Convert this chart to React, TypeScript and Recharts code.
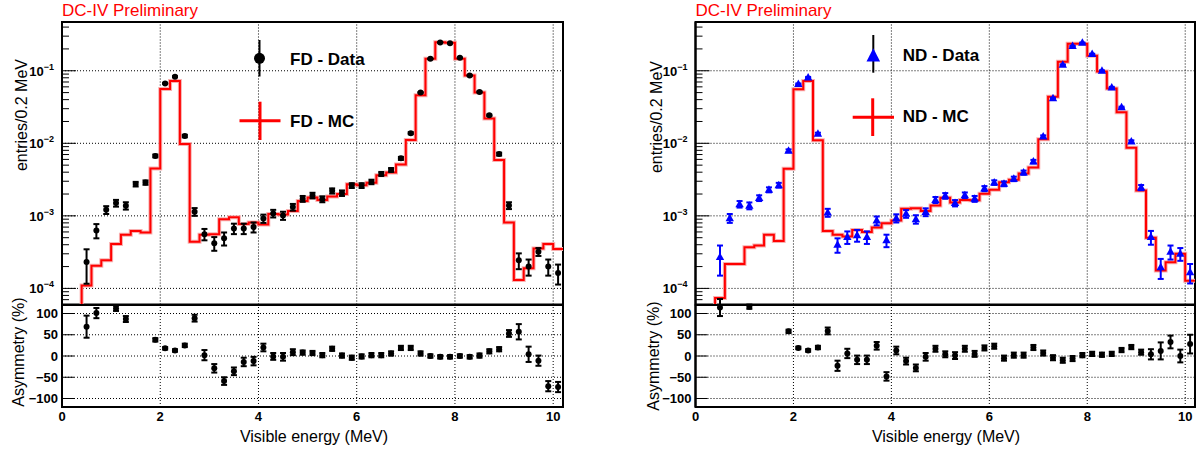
import React from "react";
import {
  ComposedChart,
  Line,
  Scatter,
  ErrorBar,
  XAxis,
  YAxis,
  ReferenceLine,
  ReferenceArea,
} from "recharts";

const FONT = "'Liberation Sans', Arial, Helvetica, sans-serif";

// bin centres of the data points (MeV), 0.2 MeV bins
const binCenters = [
  0.5, 0.7, 0.9, 1.1, 1.3, 1.5, 1.7, 1.9, 2.1, 2.3, 2.5, 2.7, 2.9, 3.1, 3.3, 3.5, 3.7, 3.9,
  4.1, 4.3, 4.5, 4.7, 4.9, 5.1, 5.3, 5.5, 5.7, 5.9, 6.1, 6.3, 6.5, 6.7, 6.9, 7.1, 7.3, 7.5,
  7.7, 7.9, 8.1, 8.3, 8.5, 8.7, 8.9, 9.1, 9.3, 9.5, 9.7, 9.9, 10.1,
];
// lower edges of the MC histogram bins
const binEdges = [
  0.4, 0.6, 0.8, 1.0, 1.2, 1.4, 1.6, 1.8, 2.0, 2.2, 2.4, 2.6, 2.8, 3.0, 3.2, 3.4, 3.6, 3.8,
  4.0, 4.2, 4.4, 4.6, 4.8, 5.0, 5.2, 5.4, 5.6, 5.8, 6.0, 6.2, 6.4, 6.6, 6.8, 7.0, 7.2, 7.4,
  7.6, 7.8, 8.0, 8.2, 8.4, 8.6, 8.8, 9.0, 9.2, 9.4, 9.6, 9.8, 10.0,
];
const histEnd = 10.2;

// FD (far detector)
const fdData = [
  2.31e-4, 6.3e-4, 1.21e-3, 1.5e-3, 1.38e-3, 2.74e-3, 2.88e-3, 6.7e-3,
  0.067, 0.083, 0.0126, 1.14e-3,
  5.6e-4, 4.2e-4, 4.9e-4, 6.7e-4, 6.7e-4, 7.0e-4,
  9.2e-4, 1.08e-3, 1.01e-3, 1.32e-3,
  1.72e-3, 1.91e-3, 1.7e-3, 2.21e-3, 2.06e-3, 2.62e-3, 2.62e-3, 2.94e-3, 3.79e-3, 4.3e-3, 6.2e-3,
  0.0138, 0.05, 0.146, 0.245, 0.24, 0.151, 0.086, 0.051, 0.0243, 7.1e-3,
  1.39e-3, 2.44e-4, 2.0e-4, 3.2e-4, 2.0e-4, 1.63e-4,
];
const fdDataErr = [
  1.15e-4, 1.4e-4, 1.5e-4, 1.6e-4, 1.6e-4, 2e-4, 2e-4, 3e-4,
  1.2e-3, 1.3e-3, 5e-4, 1.4e-4,
  1.0e-4, 9e-5, 1.0e-4, 1.1e-4, 1.1e-4, 1.1e-4,
  1.2e-4, 1.3e-4, 1.3e-4, 1.4e-4,
  1.6e-4, 1.7e-4, 1.6e-4, 1.8e-4, 1.8e-4, 2e-4, 2e-4, 2.1e-4, 2.4e-4, 2.6e-4, 3e-4,
  4.5e-4, 9e-4, 1.5e-3, 2e-3, 2e-3, 1.6e-3, 1.2e-3, 9e-4, 6e-4, 3.3e-4,
  1.5e-4, 6e-5, 5e-5, 4e-5, 5e-5, 5e-5,
];
const fdMc = [
  1.1e-4, 2.06e-4, 2.44e-4, 4.1e-4, 5.5e-4, 6.2e-4, 5.9e-4, 4.5e-3,
  0.056, 0.072, 9.8e-3, 4.4e-4,
  5.5e-4, 5.6e-4, 9.0e-4, 9.6e-4, 7.7e-4, 8.1e-4,
  7.6e-4, 1.06e-3, 1.04e-3, 1.17e-3,
  1.6e-3, 1.79e-3, 1.65e-3, 1.85e-3, 2.0e-3, 2.73e-3, 2.65e-3, 2.85e-3, 3.63e-3, 3.95e-3, 5.1e-3,
  0.0111, 0.046, 0.146, 0.248, 0.243, 0.146, 0.086, 0.05, 0.0219, 5.9e-3,
  8.1e-4, 1.31e-4, 1.89e-4, 3.56e-4, 4.1e-4, 3.5e-4,
];

// ND (near detector)
const ndData = [
  2.7e-4, 9.3e-4, 1.45e-3, 1.38e-3, 1.76e-3, 2.29e-3, 2.65e-3, 7.9e-3,
  0.0656, 0.081, 0.0135, 1.11e-3,
  4.0e-4, 5.1e-4, 5.4e-4, 5.1e-4, 8.6e-4, 4.6e-4,
  9.3e-4, 1.07e-3, 9.0e-4, 1.13e-3,
  1.66e-3, 1.89e-3, 1.5e-3, 1.93e-3, 1.72e-3, 2.38e-3, 2.88e-3, 2.77e-3, 3.24e-3, 3.95e-3, 5.6e-3,
  0.0124, 0.0417, 0.121, 0.219, 0.243, 0.17, 0.1, 0.059, 0.0313, 0.0106,
  2.46e-3, 5.1e-4, 1.95e-4, 3.2e-4, 3.0e-4, 1.67e-4,
];
const ndDataErr = [
  1.2e-4, 1.3e-4, 1.5e-4, 1.5e-4, 1.6e-4, 1.8e-4, 2e-4, 3.5e-4,
  1.2e-3, 1.3e-3, 5e-4, 1.4e-4,
  9e-5, 1e-4, 1e-4, 1e-4, 1.2e-4, 9e-5,
  1.2e-4, 1.3e-4, 1.2e-4, 1.4e-4,
  1.6e-4, 1.7e-4, 1.5e-4, 1.7e-4, 1.6e-4, 1.9e-4, 2.1e-4, 2.1e-4, 2.3e-4, 2.6e-4, 3.1e-4,
  4.6e-4, 8.5e-4, 1.4e-3, 1.9e-3, 2e-3, 1.7e-3, 1.3e-3, 1e-3, 7e-4, 4e-4,
  2e-4, 1.1e-4, 6e-5, 7e-5, 6e-5, 5e-5,
];
const ndMc = [
  7.4e-5, 2.17e-4, 2.17e-4, 3.7e-4, 3.9e-4, 5.5e-4, 4.5e-4, 4.45e-3,
  0.0555, 0.072, 0.011, 6.2e-4,
  5.5e-4, 5.2e-4, 6.4e-4, 6.0e-4, 6.9e-4, 7.9e-4,
  8.6e-4, 1.25e-3, 1.27e-3, 1.17e-3,
  1.39e-3, 1.77e-3, 1.53e-3, 1.65e-3, 1.64e-3, 2.01e-3, 2.29e-3, 2.91e-3, 3.14e-3, 3.83e-3, 4.63e-3,
  0.0114, 0.044, 0.133, 0.235, 0.235, 0.161, 0.098, 0.057, 0.0268, 8.7e-3,
  2.23e-3, 5.0e-4, 1.77e-4, 2.3e-4, 3.0e-4, 1.28e-4,
];

// asymmetry (%), null = outside the frame
const fdAsym = [
  69, 101, null, 112, 87, null, null, 38,
  18, 13, 25, 89,
  2, -29, -59, -36, -14, -12,
  20, -1, -2, 9,
  8, 7, 2, 17, 1, -4, -1, 2, 2, 6, 19,
  19, 6, 0, -2, -2, 0, -2, 1, 11, 16,
  53, 57, 4, -11, -71, -73,
];
const fdAsymErr = [
  26, 12, 0, 6, 7, 0, 0, 4,
  3, 3, 4, 8,
  12, 10, 9, 9, 10, 10,
  9, 8, 9, 7,
  5, 5, 5, 5, 5, 5, 5, 5, 5, 5, 5,
  5, 5, 4, 4, 4, 4, 4, 5, 5, 5,
  8, 18, 18, 12, 12, 12,
];
const ndAsym = [
  114, null, null, 116, null, null, null, 58,
  19, 13, 20, 59,
  -23, 6, -9, -9, 24, -48,
  13, -12, -28, -2,
  17, 4, 1, 17, 5, 19, 23, -5, 2, 2, 20,
  7, -4, -10, -6, 2, 5, 3, 5, 14, 21,
  9, 4, 12, 33, 0, 28,
];
const ndAsymErr = [
  20, 0, 0, 5, 0, 0, 0, 4,
  3, 3, 4, 8,
  12, 11, 10, 10, 9, 10,
  9, 8, 8, 9,
  7, 7, 8, 7, 7, 6, 6, 6, 6, 6, 6,
  6, 6, 6, 6, 5, 5, 5, 5, 5, 5,
  6, 12, 20, 15, 15, 22,
];

// axes
const X_DOMAIN: [number, number] = [0, 10.2];
const LOG_DOMAIN: [number, number] = [6e-5, 0.47];
const ASYM_DOMAIN: [number, number] = [-120, 120];
const xMajor = [0, 2, 4, 6, 8, 10];
const xTicks = [0, 0.5, 1, 1.5, 2, 2.5, 3, 3.5, 4, 4.5, 5, 5.5, 6, 6.5, 7, 7.5, 8, 8.5, 9, 9.5, 10];
const logMajor = [1e-4, 1e-3, 1e-2, 1e-1];
const logExp = [-5, -4, -3, -2, -1];
const logMult = [1, 2, 3, 4, 5, 6, 7, 8, 9];
const logTicks = logExp
  .flatMap((e) => logMult.map((m) => m * Math.pow(10, e)))
  .filter((v) => v >= LOG_DOMAIN[0] && v <= LOG_DOMAIN[1]);
const asymTicks = [-100, -50, 0, 50, 100];

type Pt = { x: number; y: number; err: number };

function toPoints(xs: number[], ys: (number | null)[], errs: number[]): Pt[] {
  const out: Pt[] = [];
  xs.forEach((x, i) => {
    const y = ys[i];
    if (y !== null && y !== undefined) out.push({ x, y, err: errs[i] });
  });
  return out;
}

// step outline: rise from below the frame, one row per bin edge, close at the last edge
function toHist(edges: number[], vals: number[]) {
  const rows = [{ x: edges[0], mc: 1e-6 }];
  edges.forEach((e, i) => rows.push({ x: e, mc: vals[i] }));
  rows.push({ x: histEnd, mc: vals[vals.length - 1] });
  return rows;
}

function LogTick(props: any) {
  const { x, y, payload } = props;
  const lg = Math.log10(payload.value);
  const major = Math.abs(lg - Math.round(lg)) < 1e-6;
  return (
    <g>
      <line x1={x} x2={x + (major ? 14 : 7)} y1={y} y2={y} stroke="#000" strokeWidth={1} />
      {major && (
        <text x={x - 8} y={y + 5} textAnchor="end" fontFamily={FONT} fontWeight="bold" fontSize={13} fill="#000">
          10
          <tspan dy={-6} fontSize={9}>{`\u2212${-Math.round(lg)}`}</tspan>
        </text>
      )}
    </g>
  );
}

function XTickTop(props: any) {
  const { x, y, payload } = props;
  const major = xMajor.includes(payload.value);
  return <line x1={x} x2={x} y1={y} y2={y - (major ? 10 : 6)} stroke="#000" strokeWidth={1} />;
}

function XTickLabel(props: any) {
  const { x, y, payload } = props;
  return (
    <text x={x} y={y + 14} textAnchor="middle" fontFamily={FONT} fontWeight="bold" fontSize={13} fill="#000">
      {payload.value}
    </text>
  );
}

function AsymTick(props: any) {
  const { x, y, payload } = props;
  const v = payload.value as number;
  const label = v < 0 ? `\u2212${-v}` : `${v}`;
  return (
    <g>
      <line x1={x} x2={x + 12} y1={y} y2={y} stroke="#000" strokeWidth={1} />
      <text x={x - 4} y={y + 4.5} textAnchor="end" fontFamily={FONT} fontWeight="bold" fontSize={13} fill="#000">
        {label}
      </text>
    </g>
  );
}

const dotShape = (p: any) => <circle cx={p.cx} cy={p.cy} r={3} fill="#000" />;
const triShape = (p: any) => (
  <polygon
    points={`${p.cx},${p.cy - 4.5} ${p.cx - 4.2},${p.cy + 3} ${p.cx + 4.2},${p.cy + 3}`}
    fill="#0000ff"
  />
);

const frameAxis = { stroke: "#000", strokeWidth: 2 };
const grid = { stroke: "#000", strokeWidth: 1, strokeDasharray: "1 2" };

interface PanelProps {
  left: number;
  width: number;
  yAxisWidth: number;
  marginRight: number;
}

function SpectrumChart({
  left, width, yAxisWidth, marginRight, pts, hist, shape, barColor,
}: PanelProps & { pts: Pt[]; hist: { x: number; mc: number }[]; shape: any; barColor: string }) {
  return (
    <div style={{ position: "absolute", left, top: 0 }}>
      <ComposedChart width={width} height={320} margin={{ top: 22, right: marginRight, bottom: 15.5, left: 0 }}>
        <XAxis
          type="number"
          dataKey="x"
          domain={X_DOMAIN}
          allowDataOverflow
          ticks={xTicks}
          interval={0}
          height={0}
          tickSize={0}
          tickMargin={0}
          tickLine={false}
          tick={<XTickTop />}
          axisLine={frameAxis}
        />
        <YAxis
          type="number"
          scale="log"
          domain={LOG_DOMAIN}
          allowDataOverflow
          ticks={logTicks}
          interval={0}
          width={yAxisWidth}
          tickSize={0}
          tickMargin={0}
          tickLine={false}
          tick={<LogTick />}
          axisLine={frameAxis}
        />
        {xMajor.slice(1).map((v) => (
          <ReferenceLine key={`gx${v}`} x={v} {...grid} />
        ))}
        {logMajor.map((v) => (
          <ReferenceLine key={`gy${v}`} y={v} {...grid} />
        ))}
        <Line data={hist} dataKey="mc" type="stepAfter" stroke="#f8b0b0" strokeWidth={4} dot={false} isAnimationActive={false} />
        <Line data={hist} dataKey="mc" type="stepAfter" stroke="#ff0000" strokeWidth={2} dot={false} isAnimationActive={false} />
        <Scatter data={pts} dataKey="y" shape={shape} isAnimationActive={false}>
          <ErrorBar dataKey="err" direction="y" width={3} stroke={barColor} strokeWidth={2} isAnimationActive={false} />
        </Scatter>
        <ReferenceArea x1={X_DOMAIN[0]} x2={X_DOMAIN[1]} y1={LOG_DOMAIN[0]} y2={LOG_DOMAIN[1]} fill="none" stroke="#000" strokeWidth={2} />
      </ComposedChart>
    </div>
  );
}

function AsymChart({ left, width, yAxisWidth, marginRight, pts }: PanelProps & { pts: Pt[] }) {
  return (
    <div style={{ position: "absolute", left, top: 290 }}>
      <ComposedChart width={width} height={162} margin={{ top: 15, right: marginRight, bottom: 0, left: 0 }}>
        <XAxis
          type="number"
          dataKey="x"
          domain={X_DOMAIN}
          allowDataOverflow
          ticks={xMajor}
          interval={0}
          height={45}
          tickSize={0}
          tickMargin={0}
          tickLine={false}
          tick={<XTickLabel />}
          axisLine={frameAxis}
        />
        <YAxis
          type="number"
          domain={ASYM_DOMAIN}
          allowDataOverflow
          ticks={asymTicks}
          interval={0}
          width={yAxisWidth}
          tickSize={0}
          tickMargin={0}
          tickLine={false}
          tick={<AsymTick />}
          axisLine={frameAxis}
        />
        {xMajor.slice(1).map((v) => (
          <ReferenceLine key={`gx${v}`} x={v} {...grid} />
        ))}
        {asymTicks.map((v) => (
          <ReferenceLine key={`gy${v}`} y={v} {...grid} />
        ))}
        <Scatter data={pts} dataKey="y" shape={dotShape} isAnimationActive={false}>
          <ErrorBar dataKey="err" direction="y" width={3} stroke="#000" strokeWidth={2} isAnimationActive={false} />
        </Scatter>
        <ReferenceArea x1={X_DOMAIN[0]} x2={X_DOMAIN[1]} y1={ASYM_DOMAIN[0]} y2={ASYM_DOMAIN[1]} fill="none" stroke="#000" strokeWidth={2} />
      </ComposedChart>
    </div>
  );
}

function Labels() {
  const title = { fontFamily: FONT, fontSize: 17, fill: "#ff0000" };
  const axisTitle = { fontFamily: FONT, fontSize: 16, fill: "#000" };
  const legend = { fontFamily: FONT, fontSize: 17, fontWeight: "bold" as const, fill: "#000" };
  return (
    <svg width={1200} height={452} style={{ position: "absolute", left: 0, top: 0, pointerEvents: "none" }}>
      <text x={62} y={16} {...title}>DC-IV Preliminary</text>
      <text x={695.5} y={16} {...title}>DC-IV Preliminary</text>

      <text transform="translate(21,115) rotate(-90)" textAnchor="middle" dominantBaseline="central" {...axisTitle}>
        entries/0.2 MeV
      </text>
      <text transform="translate(656,117) rotate(-90)" textAnchor="middle" dominantBaseline="central" {...axisTitle}>
        entries/0.2 MeV
      </text>
      <text transform="translate(18,352) rotate(-90)" textAnchor="middle" dominantBaseline="central" {...axisTitle}>
        Asymmetry (%)
      </text>
      <text transform="translate(653,356) rotate(-90)" textAnchor="middle" dominantBaseline="central" {...axisTitle}>
        Asymmetry (%)
      </text>
      <text x={314} y={442} textAnchor="middle" {...axisTitle}>Visible energy (MeV)</text>
      <text x={946} y={442} textAnchor="middle" {...axisTitle}>Visible energy (MeV)</text>

      {/* FD legend */}
      <line x1={259.5} x2={259.5} y1={40} y2={76.5} stroke="#000" strokeWidth={2} />
      <circle cx={259.5} cy={58.3} r={5.5} fill="#000" />
      <text x={290} y={65} {...legend}>FD - Data</text>
      <line x1={239.5} x2={280.5} y1={120.7} y2={120.7} stroke="#ff0000" strokeWidth={3} />
      <line x1={260} x2={260} y1={101.7} y2={140} stroke="#ff0000" strokeWidth={3} />
      <text x={290} y={127} {...legend}>FD - MC</text>

      {/* ND legend */}
      <line x1={873.3} x2={873.3} y1={35} y2={72.7} stroke="#000" strokeWidth={2} />
      <polygon points="873.3,48.3 866.5,61.5 880.1,61.5" fill="#0000ff" />
      <text x={902.7} y={61} {...legend}>ND - Data</text>
      <line x1={852.7} x2={894} y1={117.3} y2={117.3} stroke="#ff0000" strokeWidth={3} />
      <line x1={872.7} x2={872.7} y1={98.3} y2={136} stroke="#ff0000" strokeWidth={3} />
      <text x={902.7} y={122} {...legend}>ND - MC</text>
    </svg>
  );
}

const leftPanel: PanelProps = { left: 0, width: 600, yAxisWidth: 62, marginRight: 37 };
const rightPanel: PanelProps = { left: 634, width: 566, yAxisWidth: 61.5, marginRight: 5 };

export default function App() {
  return (
    <div style={{ position: "absolute", left: 0, top: 0, width: 1200, height: 452, background: "#fff" }}>
      <SpectrumChart
        {...leftPanel}
        pts={toPoints(binCenters, fdData, fdDataErr)}
        hist={toHist(binEdges, fdMc)}
        shape={dotShape}
        barColor="#000"
      />
      <SpectrumChart
        {...rightPanel}
        pts={toPoints(binCenters, ndData, ndDataErr)}
        hist={toHist(binEdges, ndMc)}
        shape={triShape}
        barColor="#0000ff"
      />
      <AsymChart {...leftPanel} pts={toPoints(binCenters, fdAsym, fdAsymErr)} />
      <AsymChart {...rightPanel} pts={toPoints(binCenters, ndAsym, ndAsymErr)} />
      <Labels />
    </div>
  );
}
